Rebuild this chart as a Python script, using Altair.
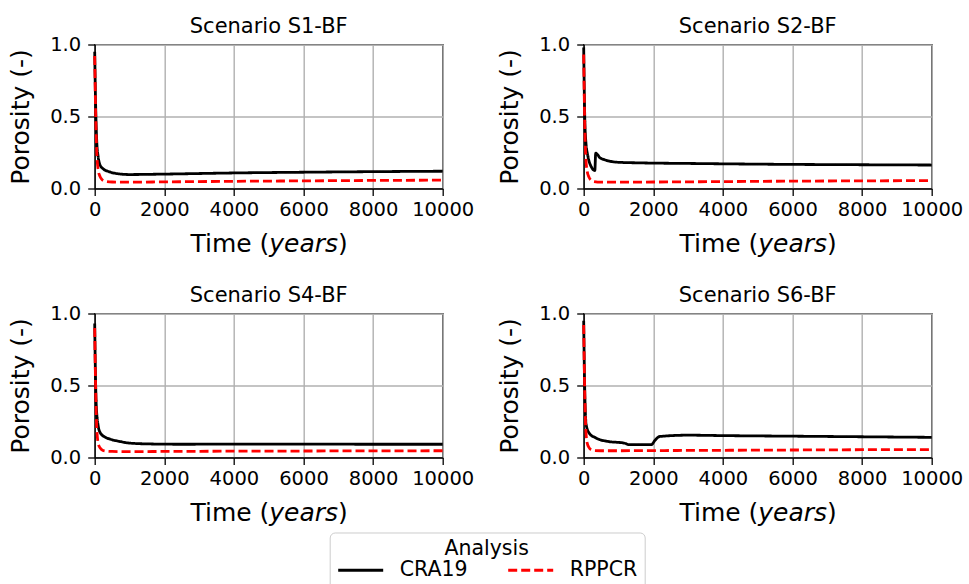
import altair as alt
import pandas as pd

SCENARIOS = ["Scenario S1-BF", "Scenario S2-BF", "Scenario S4-BF", "Scenario S6-BF"]
ANALYSES = ["CRA19", "RPPCR"]
X_TICKS = [0, 2000, 4000, 6000, 8000, 10000]
Y_TICKS = [0.0, 0.5, 1.0]

# Scenario S1-BF
S1_CRA19_T = [0, 25, 60, 100, 150, 250, 400, 600, 1000, 2000, 4000, 6000, 8000, 10000]
S1_CRA19_Y = [0.95, 0.6, 0.32, 0.22, 0.165, 0.135, 0.118, 0.105, 0.097, 0.1, 0.108, 0.113, 0.117, 0.12]
S1_RPPCR_T = [0, 30, 60, 100, 150, 200, 300, 500, 1000, 2000, 4000, 6000, 8000, 10000]
S1_RPPCR_Y = [0.92, 0.5, 0.25, 0.13, 0.085, 0.065, 0.05, 0.045, 0.044, 0.046, 0.05, 0.053, 0.056, 0.058]

# Scenario S2-BF
S2_CRA19_T = [0, 30, 60, 125, 220, 320, 345, 400, 460, 600, 1000, 1600, 3000, 5600, 8000, 10000]
S2_CRA19_Y = [0.98, 0.5, 0.33, 0.22, 0.15, 0.125, 0.245, 0.235, 0.215, 0.2, 0.182, 0.178, 0.174, 0.168, 0.165, 0.163]
S2_RPPCR_T = [0, 30, 60, 100, 150, 200, 300, 500, 1000, 2000, 4000, 6000, 8000, 10000]
S2_RPPCR_Y = [0.93, 0.45, 0.22, 0.12, 0.08, 0.06, 0.048, 0.044, 0.044, 0.045, 0.048, 0.051, 0.053, 0.055]

# Scenario S4-BF
S4_CRA19_T = [0, 20, 45, 100, 150, 300, 440, 730, 1000, 1600, 2500, 4000, 6000, 8000, 10000]
S4_CRA19_Y = [0.93, 0.6, 0.36, 0.22, 0.176, 0.141, 0.128, 0.111, 0.1, 0.094, 0.092, 0.093, 0.093, 0.092, 0.092]
S4_RPPCR_T = [0, 30, 60, 100, 150, 200, 300, 500, 1000, 2000, 4000, 6000, 8000, 10000]
S4_RPPCR_Y = [0.9, 0.45, 0.2, 0.1, 0.068, 0.055, 0.045, 0.042, 0.041, 0.042, 0.044, 0.045, 0.046, 0.047]

# Scenario S6-BF
S6_CRA19_T = [0, 20, 45, 77, 170, 317, 450, 655, 1180, 1280, 1950, 2050, 2190, 3000, 4000, 6000, 8000, 10000]
S6_CRA19_Y = [0.95, 0.6, 0.33, 0.22, 0.165, 0.14, 0.125, 0.113, 0.099, 0.09, 0.09, 0.12, 0.146, 0.155, 0.152, 0.148, 0.144, 0.14]
S6_RPPCR_T = [0, 30, 60, 100, 150, 200, 300, 500, 1000, 2000, 4000, 6000, 8000, 10000]
S6_RPPCR_Y = [0.92, 0.45, 0.2, 0.1, 0.07, 0.056, 0.048, 0.047, 0.047, 0.048, 0.05, 0.052, 0.054, 0.055]

SERIES = {
    ("Scenario S1-BF", "CRA19"): (S1_CRA19_T, S1_CRA19_Y),
    ("Scenario S1-BF", "RPPCR"): (S1_RPPCR_T, S1_RPPCR_Y),
    ("Scenario S2-BF", "CRA19"): (S2_CRA19_T, S2_CRA19_Y),
    ("Scenario S2-BF", "RPPCR"): (S2_RPPCR_T, S2_RPPCR_Y),
    ("Scenario S4-BF", "CRA19"): (S4_CRA19_T, S4_CRA19_Y),
    ("Scenario S4-BF", "RPPCR"): (S4_RPPCR_T, S4_RPPCR_Y),
    ("Scenario S6-BF", "CRA19"): (S6_CRA19_T, S6_CRA19_Y),
    ("Scenario S6-BF", "RPPCR"): (S6_RPPCR_T, S6_RPPCR_Y),
}

rows = []
for (scn, ana), (ts, ys) in SERIES.items():
    for i, (t, y) in enumerate(zip(ts, ys)):
        rows.append({"scenario": scn, "analysis": ana, "time": t, "porosity": y, "order": i})
df = pd.DataFrame(rows)

FONT = "DejaVu Sans"
W, H = 348, 144

legend = alt.Legend(
    title="Analysis", orient="none", legendX=235, legendY=488, direction="horizontal",
    titleAnchor="middle", titleOrient="top", symbolType="stroke", symbolSize=2025,
    symbolStrokeWidth=2.8, labelFontSize=20.5, titleFontSize=20.5, titleFontWeight="normal",
    labelFont=FONT, titleFont=FONT, labelColor="black", titleColor="black",
    strokeColor="#cccccc", fillColor="white", padding=7, cornerRadius=5,
    labelOffset=15, columnPadding=34, titlePadding=-14,
)

color_scale = alt.Scale(domain=ANALYSES, range=["#000000", "#ff0000"])
dash_scale = alt.Scale(domain=ANALYSES, range=[[1, 0], [9, 4]])

one_row = pd.DataFrame({"k": [0]})


def panel(scn):
    lines = alt.Chart(df[df.scenario == scn]).mark_line(strokeWidth=2.8, interpolate="monotone").encode(
        x=alt.X("time:Q", scale=alt.Scale(domain=[0, 10000], nice=False),
                axis=alt.Axis(values=X_TICKS, format="d", title=None, labelOverlap=False, labelFlush=False)),
        y=alt.Y("porosity:Q", scale=alt.Scale(domain=[0, 1], nice=False),
                axis=alt.Axis(values=Y_TICKS, format=".1f", title="Porosity (-)", labelOverlap=False,
                              labelFlush=False)),
        color=alt.Color("analysis:N", scale=color_scale, legend=legend),
        strokeDash=alt.StrokeDash("analysis:N", scale=dash_scale, legend=legend),
        order="order:Q",
    )
    base_t = alt.Chart(one_row)
    xs = 174.6
    ty = 207.7
    common = dict(baseline="alphabetic", fontSize=25, font=FONT, color="black")
    t1 = base_t.mark_text(text="Time (", align="right", **common).encode(x=alt.value(xs), y=alt.value(ty))
    t2 = base_t.mark_text(text="years", align="left", fontStyle="italic", **common).encode(
        x=alt.value(xs), y=alt.value(ty))
    t3 = base_t.mark_text(text=")", align="left", **common).encode(x=alt.value(xs + 68.8), y=alt.value(ty))
    ttl = base_t.mark_text(text=scn, align="center", baseline="alphabetic", fontSize=21, font=FONT,
                           color="black").encode(x=alt.value(W / 2), y=alt.value(-11.2))
    return alt.layer(lines, t1, t2, t3, ttl).properties(width=W, height=H)


chart = alt.concat(*[panel(s) for s in SCENARIOS], columns=2,
                   spacing={"row": 125, "column": 141}, bounds="flush").properties(
    padding={"left": 7.7, "top": 15.5, "right": 5, "bottom": 5}
).configure(
    background="white", font=FONT,
).configure_view(stroke="black", strokeWidth=1.3).configure_axis(
    domainColor="black", domainWidth=1.3, tickColor="black", tickWidth=1.3, tickSize=7,
    labelFont=FONT, labelFontSize=19.5, labelColor="black", titleFont=FONT, titleFontSize=25,
    titleFontWeight="normal", titleColor="black", gridColor="#b0b0b0", gridWidth=1.4, gridOpacity=1,
).configure_axisX(labelPadding=5).configure_axisY(labelPadding=7, titlePadding=16)

chart.save("out.html", embed_options={"renderer": "svg", "actions": False})
